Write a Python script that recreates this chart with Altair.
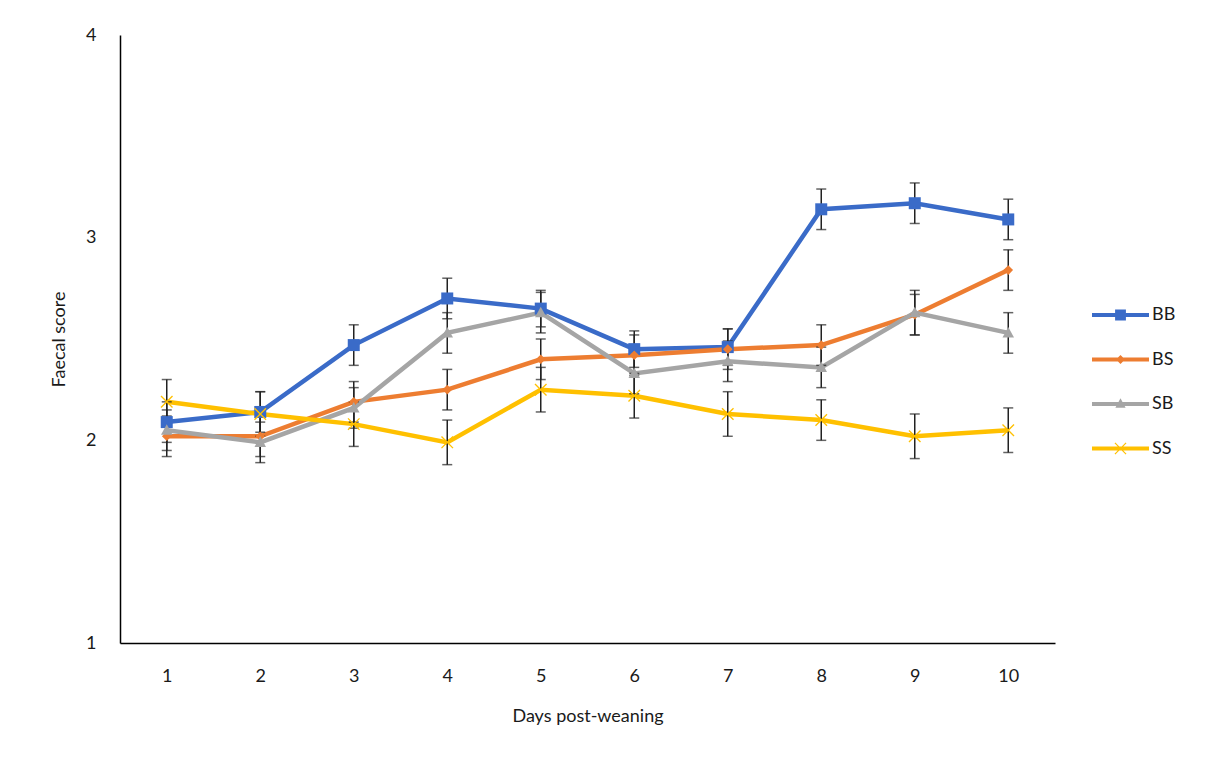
import altair as alt
import pandas as pd

days = [1, 2, 3, 4, 5, 6, 7, 8, 9, 10]
series_names = ["BB", "BS", "SB", "SS"]
colors = ["#3A6BC8", "#ED7D31", "#A5A5A5", "#FFC000"]

BB = [2.09, 2.14, 2.47, 2.70, 2.65, 2.45, 2.46, 3.14, 3.17, 3.09]
BS = [2.02, 2.02, 2.19, 2.25, 2.40, 2.42, 2.45, 2.47, 2.62, 2.84]
SB = [2.05, 1.99, 2.16, 2.53, 2.63, 2.33, 2.39, 2.36, 2.63, 2.53]
SS = [2.19, 2.13, 2.08, 1.99, 2.25, 2.22, 2.13, 2.10, 2.02, 2.05]

BB_err = [0.10, 0.10, 0.10, 0.10, 0.09, 0.09, 0.09, 0.10, 0.10, 0.10]
BS_err = [0.10, 0.10, 0.10, 0.10, 0.10, 0.10, 0.10, 0.10, 0.10, 0.10]
SB_err = [0.10, 0.10, 0.10, 0.10, 0.10, 0.10, 0.10, 0.10, 0.11, 0.10]
SS_err = [0.11, 0.11, 0.11, 0.11, 0.11, 0.11, 0.11, 0.10, 0.11, 0.11]

values = {"BB": BB, "BS": BS, "SB": SB, "SS": SS}
errors = {"BB": BB_err, "BS": BS_err, "SB": SB_err, "SS": SS_err}

rows = []
for s in series_names:
    for d, v, e in zip(days, values[s], errors[s]):
        rows.append({"day": d, "series": s, "mk": s, "value": v,
                     "lo": round(v - e, 3), "hi": round(v + e, 3)})
df = pd.DataFrame(rows)

# marker shapes for the plot (unit coords, scaled by sqrt(size)/2)
plot_shapes = [
    "M-0.5,-0.5L0.5,-0.5L0.5,0.5L-0.5,0.5Z",
    "M0,-0.4L0.4,0L0,0.4L-0.4,0Z",
    "M0,-0.5L0.48,0.38L-0.48,0.38Z",
    "M-0.44,-0.52L0.52,0.44L0.44,0.52L-0.52,-0.44Z M0.52,-0.44L-0.44,0.52L-0.52,0.44L0.44,-0.52Z",
]
# legend symbols: line segment + marker
LINE = "M-1,-0.07L1,-0.07L1,0.07L-1,0.07Z "
legend_shapes = [
    LINE + "M-0.19,-0.19L0.19,-0.19L0.19,0.19L-0.19,0.19Z",
    LINE + "M0,-0.16L0.16,0L0,0.16L-0.16,0Z",
    LINE + "M0,-0.2L0.18,0.13L-0.18,0.13Z",
    LINE + "M-0.18,-0.21L0.21,0.18L0.18,0.21L-0.21,-0.18Z M0.21,-0.18L-0.18,0.21L-0.21,0.18L0.18,-0.21Z",
]

FONT = "Lato"
TXT = "#1a1a1a"
xenc = alt.X("day:O", title="Days post-weaning",
             scale=alt.Scale(type="point", padding=0.5),
             axis=alt.Axis(labelAngle=0, ticks=False, domainColor="#000000", domainWidth=1.5,
                           labelFontSize=18, labelPadding=24, titleFontSize=18,
                           titleFontWeight="normal", titlePadding=22,
                           labelColor=TXT, titleColor=TXT, labelFont=FONT, titleFont=FONT))
yscale = alt.Scale(domain=[1, 4], nice=False, zero=False)
yaxis = alt.Axis(values=[1, 2, 3, 4], format="d", ticks=False, grid=False,
                 domainColor="#000000", domainWidth=1.5,
                 labelFontSize=18, labelPadding=24, titleFontSize=18, titleFontWeight="normal",
                 titlePadding=17, labelColor=TXT, titleColor=TXT,
                 labelFont=FONT, titleFont=FONT)
color_scale = alt.Scale(domain=series_names, range=colors)

legend_spec = alt.Legend(title=None, orient="none", legendX=972, legendY=272,
                         symbolSize=3249, symbolStrokeWidth=0, clipHeight=16,
                         rowPadding=26.5, labelFontSize=18, labelFont=FONT,
                         labelColor=TXT, labelOffset=3)

base = alt.Chart(df)

lines = base.mark_line(strokeWidth=4.5).encode(
    x=xenc,
    y=alt.Y("value:Q", title="Faecal score", scale=yscale, axis=yaxis),
    color=alt.Color("mk:N", scale=color_scale, legend=None),
    detail="mk:N",
)

err_rule = base.mark_rule(color="#222222", strokeWidth=1.5).encode(
    x="day:O", y=alt.Y("lo:Q", scale=yscale), y2="hi:Q"
)
err_lo = base.mark_tick(color="#222222", thickness=1.5, size=10, orient="horizontal").encode(
    x="day:O", y=alt.Y("lo:Q", scale=yscale)
)
err_hi = base.mark_tick(color="#222222", thickness=1.5, size=10, orient="horizontal").encode(
    x="day:O", y=alt.Y("hi:Q", scale=yscale)
)

points = base.mark_point(filled=True, opacity=1, size=576, strokeWidth=0).encode(
    x="day:O",
    y=alt.Y("value:Q", scale=yscale),
    color=alt.Color("mk:N", scale=color_scale, legend=None),
    shape=alt.Shape("mk:N", scale=alt.Scale(domain=series_names, range=plot_shapes), legend=None),
)

legend_layer = base.transform_filter("false").mark_point(
    filled=True, size=3249, strokeWidth=0, opacity=1
).encode(
    x="day:O",
    y=alt.Y("value:Q", scale=yscale),
    color=alt.Color("series:N", scale=color_scale, legend=legend_spec),
    shape=alt.Shape("series:N", scale=alt.Scale(domain=series_names, range=legend_shapes),
                    legend=legend_spec),
)

chart = alt.layer(lines, err_rule, err_lo, err_hi, points, legend_layer).resolve_scale(
    color="independent", shape="independent"
).properties(
    width=935, height=608,
    padding={"left": 42, "top": 18, "right": 5, "bottom": 5},
).configure(background="white").configure_view(stroke=None, strokeWidth=0)

chart.save("out.html", embed_options={"renderer": "svg", "actions": False})
